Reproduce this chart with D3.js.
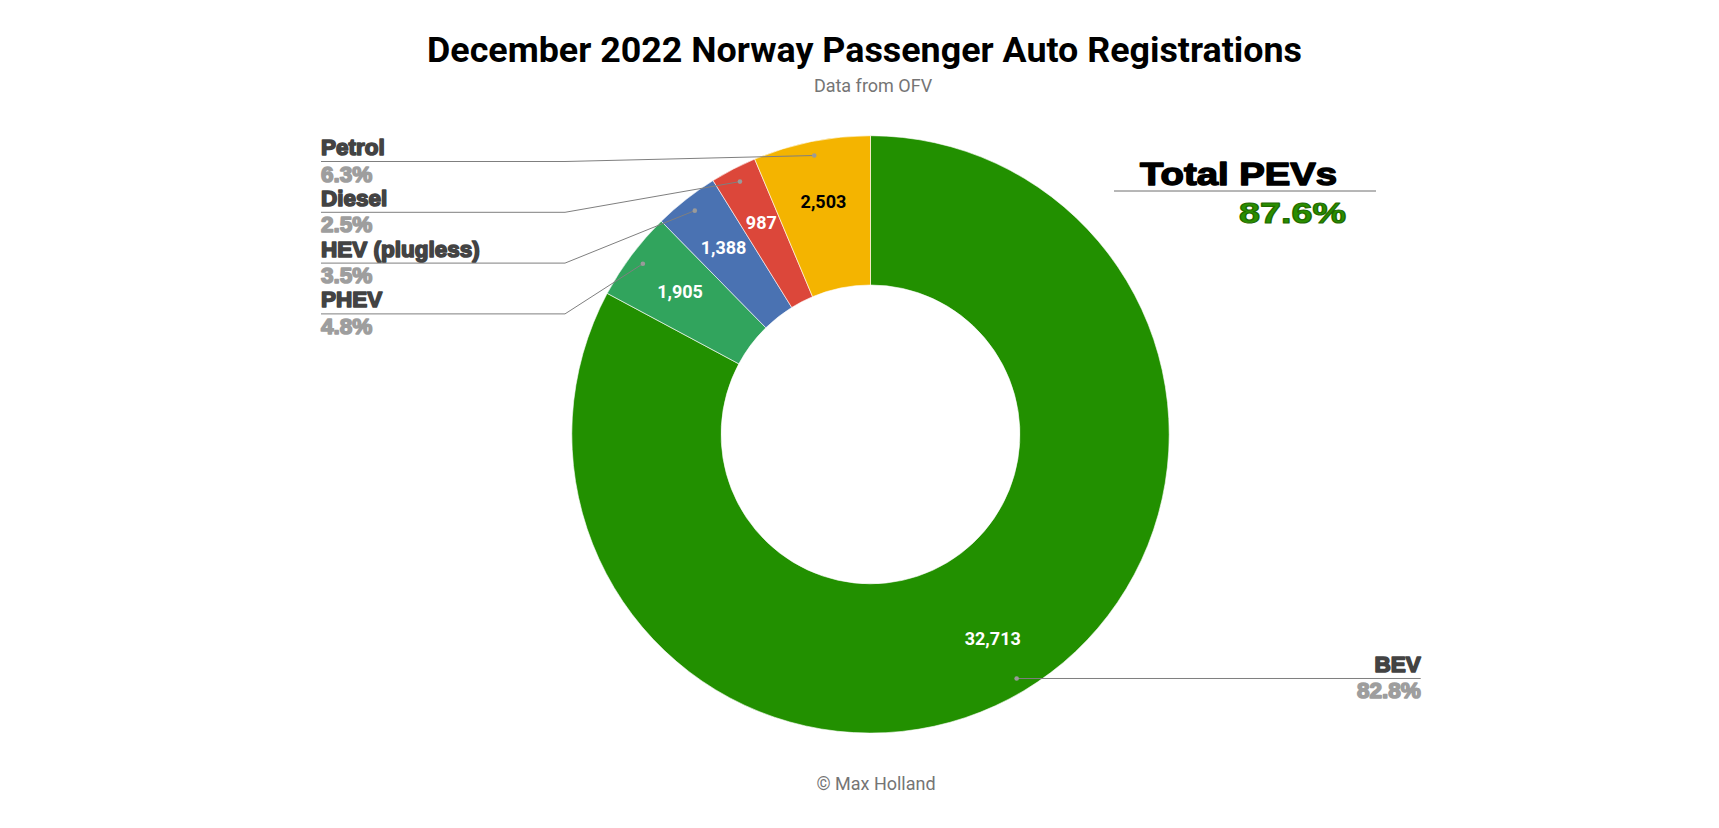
<!DOCTYPE html>
<html>
<head>
<meta charset="utf-8">
<script src="https://cdn.jsdelivr.net/npm/d3@7"></script>
<style>
  html, body { margin: 0; padding: 0; background: #fff; }
  svg { display: block; }
</style>
</head>
<body>
<svg id="chart" width="1719" height="828"></svg>
<script>
// ---- data ----
const categories = ["BEV", "PHEV", "HEV (plugless)", "Diesel", "Petrol"];
const registrations = [32713, 1905, 1388, 987, 2503];
const sliceColors = ["#229000", "#31a45d", "#4a72b2", "#dc473a", "#f4b400"];
const valueTextColors = ["#ffffff", "#ffffff", "#ffffff", "#ffffff", "#000000"];
const titleText = "December 2022 Norway Passenger Auto Registrations";
const subtitleText = "Data from OFV";
const footerText = "\u00a9 Max Holland";
const calloutTitle = "Total PEVs";
const calloutValue = "87.6%";

// ---- layout ----
const W = 1719, H = 828;
const cx = 870.5, cy = 434.4;
const outerR = 298.7, innerR = 149.4;
const dotR = 284.5, valueR = 238;

const svg = d3.select("#chart");
svg.append("rect").attr("width", W).attr("height", H).attr("fill", "#fff");

const total = d3.sum(registrations);
const data = categories.map((c, i) => ({
  name: c, value: registrations[i], color: sliceColors[i], textColor: valueTextColors[i],
  pct: (registrations[i] / total * 100).toFixed(1) + "%"
}));

const pie = d3.pie().sort(null).value(d => d.value).startAngle(0).endAngle(2 * Math.PI);
const arcs = pie(data);
const arc = d3.arc().innerRadius(innerR).outerRadius(outerR);
const dotArc = d3.arc().innerRadius(dotR).outerRadius(dotR);
const valArc = d3.arc().innerRadius(valueR).outerRadius(valueR);

const g = svg.append("g").attr("transform", `translate(${cx},${cy})`);
g.selectAll("path.slice").data(arcs).join("path")
  .attr("class", "slice")
  .attr("d", arc)
  .attr("fill", d => d.data.color)
  .attr("stroke", "#ffffff")
  .attr("stroke-width", 0.6);

const fmt = d3.format(",");
g.selectAll("text.val").data(arcs).join("text")
  .attr("class", "val")
  .attr("x", d => valArc.centroid(d)[0])
  .attr("y", d => valArc.centroid(d)[1])
  .attr("dy", "0.36em")
  .attr("text-anchor", "middle")
  .attr("font-family", "Roboto, sans-serif")
  .attr("font-weight", 700)
  .attr("font-size", 18)
  .attr("fill", d => d.data.textColor)
  .text(d => fmt(d.data.value));

// ---- leader labels ----
const lineColor = "#7f7f7f";
const labelFont = "'Liberation Sans', Arial, sans-serif";
const leftLabelX = 321, elbowX = 565, leftTop = 161.5, leftStep = 50.8;
const rightLabelX = 1420.7;

const leftArcs = arcs.filter(d => (d.startAngle + d.endAngle) / 2 > Math.PI).reverse();
const rightArcs = arcs.filter(d => (d.startAngle + d.endAngle) / 2 <= Math.PI);

function labelText(x, y, anchor, name, pct) {
  svg.append("text").attr("x", x).attr("y", y - 6.5)
    .attr("text-anchor", anchor)
    .attr("font-family", labelFont).attr("font-weight", 700).attr("font-size", 22.5)
    .attr("fill", "#434343").attr("stroke", "#434343").attr("stroke-width", 1.6)
    .attr("stroke-linejoin", "round")
    .text(name);
  svg.append("text").attr("x", x).attr("y", y + 20)
    .attr("text-anchor", anchor)
    .attr("font-family", labelFont).attr("font-weight", 700).attr("font-size", 22.5)
    .attr("fill", "#9e9e9e").attr("stroke", "#9e9e9e").attr("stroke-width", 1.6)
    .attr("stroke-linejoin", "round")
    .text(pct);
}

leftArcs.forEach((d, i) => {
  const [dx, dy] = dotArc.centroid(d);
  const px = cx + dx, py = cy + dy;
  const ly = leftTop + i * leftStep;
  svg.append("path")
    .attr("d", d3.line()([[leftLabelX, ly], [elbowX, ly], [px, py]]))
    .attr("fill", "none").attr("stroke", lineColor).attr("stroke-width", 1);
  svg.append("circle").attr("cx", px).attr("cy", py).attr("r", 2.3).attr("fill", "#9a9a9a");
  labelText(leftLabelX, ly, "start", d.data.name, d.data.pct);
});

rightArcs.forEach(d => {
  const [dx, dy] = dotArc.centroid(d);
  const px = cx + dx, py = cy + dy;
  svg.append("path")
    .attr("d", d3.line()([[px, py], [rightLabelX, py]]))
    .attr("fill", "none").attr("stroke", lineColor).attr("stroke-width", 1);
  svg.append("circle").attr("cx", px).attr("cy", py).attr("r", 2.3).attr("fill", "#9a9a9a");
  labelText(rightLabelX, py, "end", d.data.name, d.data.pct);
});

// ---- titles ----
svg.append("text").attr("x", 864.5).attr("y", 62)
  .attr("text-anchor", "middle")
  .attr("font-family", "Roboto, sans-serif").attr("font-weight", 700).attr("font-size", 35)
  .attr("textLength", 875).attr("lengthAdjust", "spacingAndGlyphs")
  .attr("fill", "#000").text(titleText);
svg.append("text").attr("x", 873).attr("y", 91.5)
  .attr("text-anchor", "middle")
  .attr("font-family", "Roboto, sans-serif").attr("font-size", 18)
  .attr("fill", "#757575").text(subtitleText);
svg.append("text").attr("x", 876).attr("y", 790)
  .attr("text-anchor", "middle")
  .attr("font-family", "Roboto, sans-serif").attr("font-size", 18)
  .attr("fill", "#757575").text(footerText);

// ---- callout ----
svg.append("text").attr("x", 1140).attr("y", 185)
  .attr("font-family", labelFont).attr("font-weight", 700).attr("font-size", 31)
  .attr("textLength", 197).attr("lengthAdjust", "spacingAndGlyphs")
  .attr("fill", "#000").attr("stroke", "#000").attr("stroke-width", 1.4)
  .attr("stroke-linejoin", "round")
  .text(calloutTitle);
svg.append("line").attr("x1", 1114).attr("x2", 1376).attr("y1", 191).attr("y2", 191)
  .attr("stroke", "#6f6f6f").attr("stroke-width", 1);
svg.append("text").attr("x", 1239).attr("y", 223.3)
  .attr("font-family", labelFont).attr("font-weight", 700).attr("font-size", 30)
  .attr("textLength", 107).attr("lengthAdjust", "spacingAndGlyphs")
  .attr("fill", "#2a8f00").attr("stroke", "#1f6a00").attr("stroke-width", 1.2)
  .attr("stroke-linejoin", "round")
  .text(calloutValue);
</script>
</body>
</html>
